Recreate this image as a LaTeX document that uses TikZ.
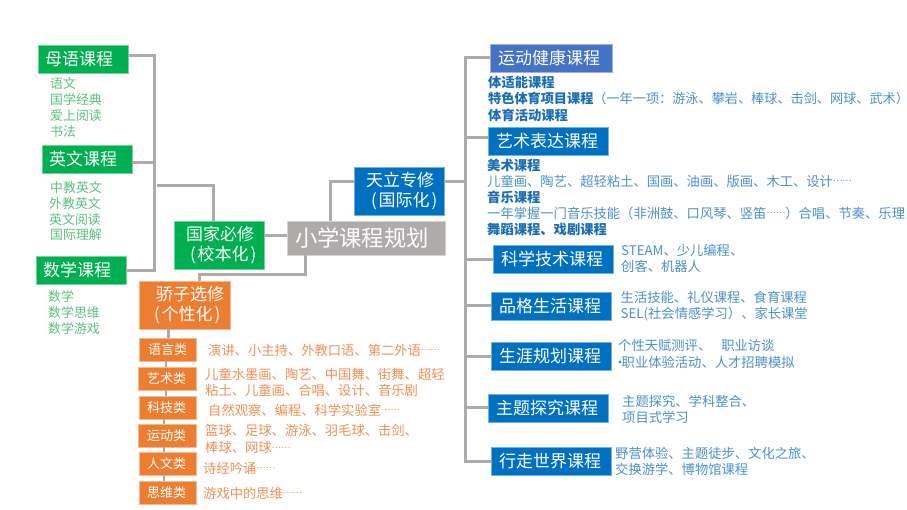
\documentclass[tikz,border=0pt]{standalone}
\usepackage{fontspec}
\setmainfont{Noto Sans CJK SC}
\definecolor{cgreen}{HTML}{00B050}
\definecolor{cblue}{HTML}{0070C0}
\definecolor{cindigo}{HTML}{4472C4}
\definecolor{corange}{HTML}{ED7D31}
\definecolor{cgrey}{HTML}{AFABAB}
\definecolor{tgreen}{HTML}{5CC07C}
\definecolor{tblue}{HTML}{4A90CF}
\definecolor{tbold}{HTML}{1A6DB5}
\definecolor{torange}{HTML}{EF9057}
\newcommand{\pd}[2]{\hspace*{#1pt}#2}
\newcommand{\elli}{\raisebox{.32em}{\scalebox{.67}{……}}}
\newcommand{\pa}[1]{(\hspace{2pt}#1\hspace{2pt})}
\tikzset{
  base/.style={anchor=north west,inner xsep=0pt,inner ysep=0pt,align=left,text=white,outer sep=0pt},
  box/.style args={#1/#2/#3}{base,fill=#1,draw=#1!55!white,line width=.6pt,text width=#2pt,minimum height=#3pt},
  head/.style={font=\fontsize{17}{20}\selectfont},
  small/.style={font=\fontsize{13}{16}\selectfont},
  conn/.style={draw=cgrey,line width=3pt},
  thin conn/.style={draw=cgrey,line width=2.4pt},
  desc/.style={anchor=west,inner sep=0pt,align=left,font=\fontsize{13.3}{16.2}\selectfont},
  gt/.style={desc,text=tgreen,font=\fontsize{12.9}{16}\selectfont},
  bt/.style={desc,text=tblue},
  ot/.style={desc,text=torange,font=\fontsize{13.3}{16.5}\selectfont},
}
\begin{document}
\begin{tikzpicture}[x=1pt,y=-1pt]
\useasboundingbox (0,0) rectangle (907,509);
% green
\node[box=cgreen/90/28,head] (m1) at (38,45) {\pd{7}{母语课程}};
\node[box=cgreen/90/28,head] (m2) at (42,145) {\pd{7}{英文课程}};
\node[box=cgreen/90/28,head] (m3) at (36,256) {\pd{7}{数学课程}};
\node[box=cgreen/90/48,head] (gj) at (174,221) {\pd{12}{国家必修}\\\pd{16}{\pa{校本化}}};
\node[box=cgrey/158/34,font=\fontsize{22.3}{26}\selectfont] (root) at (287,221) {\pd{8}{小学课程规划}};
\node[box=cblue/90/48,head] (tl) at (354,167) {\pd{12}{天立专修}\\\pd{17}{\pa{国际化}}};
\node[box=corange/91/48,head] (jz) at (139,281) {\pd{17}{骄子选修}\\\pd{15}{\pa{个性化}}};
% blue
\node[box=cindigo/122/28,head] (b1) at (490,44) {\pd{8}{运动健康课程}};
\node[box=cblue/120/28,head] (b2) at (488,127) {\pd{8}{艺术表达课程}};
\node[box=cblue/120/28,head] (b3) at (493,245) {\pd{8}{科学技术课程}};
\node[box=cblue/120/28,head] (b4) at (491,292) {\pd{8}{品格生活课程}};
\node[box=cblue/120/28,head] (b5) at (491,342) {\pd{8}{生涯规划课程}};
\node[box=cblue/120/28,head] (b6) at (488,394) {\pd{8}{主题探究课程}};
\node[box=cblue/120/28,head] (b7) at (491,447) {\pd{8}{行走世界课程}};
% orange
\node[box=corange/57/23,small] (o1) at (139,338) {\pd{9}{语言类}};
\node[box=corange/58/23,small] (o2) at (138,367) {\pd{9}{艺术类}};
\node[box=corange/57/23,small] (o3) at (139,396) {\pd{8}{科技类}};
\node[box=corange/58/23,small] (o4) at (138,424) {\pd{9}{运动类}};
\node[box=corange/57/23,small] (o5) at (139,452) {\pd{8}{人文类}};
\node[box=corange/57/23,small] (o6) at (139,481) {\pd{8}{思维类}};
% connectors
\coordinate (ltrunk) at (154,55);
\coordinate (rtrunk) at (465,181);
\coordinate (gjfree) at (157,185);
\coordinate (m1r) at ([yshift=4pt]m1.east);
\coordinate (m2r) at ([yshift=-3pt]m2.east);
\coordinate (gjtop) at ([xshift=-6pt]gj.north);
\coordinate (gjr) at ([yshift=10pt]gj.east);
\coordinate (rootup) at ([xshift=-36pt]root.north);
\coordinate (rootdn) at ([xshift=-61pt]root.south);
\coordinate (jztop) at ([xshift=14.5pt]jz.north);
\draw[conn] (m1r) -- (ltrunk |- m1r) -- (ltrunk |- m3.east) -- (m3.east);
\draw[conn] (m2r) -- (ltrunk |- m2r);
\draw[conn] (gjfree) -- (gjfree -| gjtop) -- (gjtop);
\draw[conn] (gjr) -- (gjr -| root.west);
\draw[conn] (rootup) -- (rootup |- rtrunk) -- (tl.west |- rtrunk);
\draw[conn] (tl.east |- rtrunk) -- (rtrunk);
\draw[conn] (b1.west |- 0,57) -- (465,57) -- (465,461) -- (b7.west |- 0,461);
\draw[conn] (b2.west |- 0,137) -- (465,137);
\draw[conn] (b3.west) -- (465,259);
\draw[conn] (b4.west |- 0,305) -- (465,305);
\draw[conn] (b5.west |- 0,356) -- (465,356);
\draw[conn] (b6.west |- 0,407) -- (465,407);
\draw[conn] (rootdn) -- (rootdn |- 0,274) -- (jztop |- 0,274) -- (jztop);
\draw[conn] (jz.south -| 168,0) -- (o1.north -| 168,0);
\foreach \a/\b/\x in {o1/o2/166,o2/o3/166,o3/o4/164,o4/o5/164,o5/o6/164}{
  \draw[thin conn] (\a.south -| \x,0) -- (\b.north -| \x,0);
}
% green text
\node[gt] (g1) at (50,83.5) {语文};
\node[gt] (g2) at (50,100) {国学经典};
\node[gt] (g3) at (50,116) {爱上阅读};
\node[gt] (g4) at (50,132) {书法};
\node[gt] (g5) at (50,187.5) {中教英文};
\node[gt] (g6) at (49,203.5) {外教英文};
\node[gt] (g7) at (49,219.5) {英文阅读};
\node[gt] (g8) at (50,235) {国际理解};
\node[gt] (g9) at (48,296.5) {数学};
\node[gt] (g10) at (48,312.5) {数学思维};
\node[gt] (g11) at (48,328.5) {数学游戏};
% blue text
\node[bt,text=tbold] (t1) at (488,82) {\bfseries 体适能课程};
\node[bt,font=\fontsize{13.15}{16.2}\selectfont] (t2) at (488,98.5) {\textcolor{tbold}{\bfseries 特色体育项目课程}（一年一项：游泳、攀岩、棒球、击剑、网球、武术\makebox[7pt][l]{）}};
\node[bt,text=tbold] (t3) at (488,115) {\bfseries 体育活动课程};
\node[bt,text=tbold] (t4) at (487,165) {\bfseries 美术课程};
\node[bt] (t5) at (487,181) {儿童画、陶艺、超轻粘土、国画、油画、版画、木工、设计\elli};
\node[bt,text=tbold] (t6) at (487,197) {\bfseries 音乐课程};
\node[bt] (t7) at (487,213) {一年掌握一门音乐技能（非洲鼓、口风琴、竖笛\elli）合唱、节奏、乐理};
\node[bt,text=tbold] (t8) at (487,229) {\bfseries 舞蹈课程、戏剧课程};
\node[bt] (t9) at (621,258.5) {STEAM、少儿编程、\\创客、机器人};
\node[bt] (t10) at (620.5,306) {生活技能、礼仪课程、食育课程\\SEL(社会情感学习）、家长课堂};
\node[bt] (t11) at (618,354) {个性天赋测评、\hspace{10pt}职业访谈\\\makebox[3.5pt][c]{·}职业体验活动、人才招聘模拟};
\node[bt] (t12) at (622,409) {主题探究、学科整合、\\项目式学习};
\node[bt] (t13) at (615,461.5) {野营体验、主题徒步、文化之旅、\\交换游学、博物馆课程};
% orange text
\node[ot] (p1) at (208,350) {演讲、小主持、外教口语、第二外语\elli};
\node[ot] (p2) at (205,382.5) {儿童水墨画、陶艺、中国舞、街舞、超轻\\粘土、儿童画、合唱、设计、音乐剧};
\node[ot] (p3) at (208,410) {自然观察、编程、科学实验室\elli};
\node[ot] (p4) at (205,439) {篮球、足球、游泳、羽毛球、击剑、\\棒球、网球\elli};
\node[ot] (p5) at (203,468) {诗经吟诵\elli};
\node[ot] (p6) at (203,493) {游戏中的思维\elli};
\end{tikzpicture}
\end{document}
